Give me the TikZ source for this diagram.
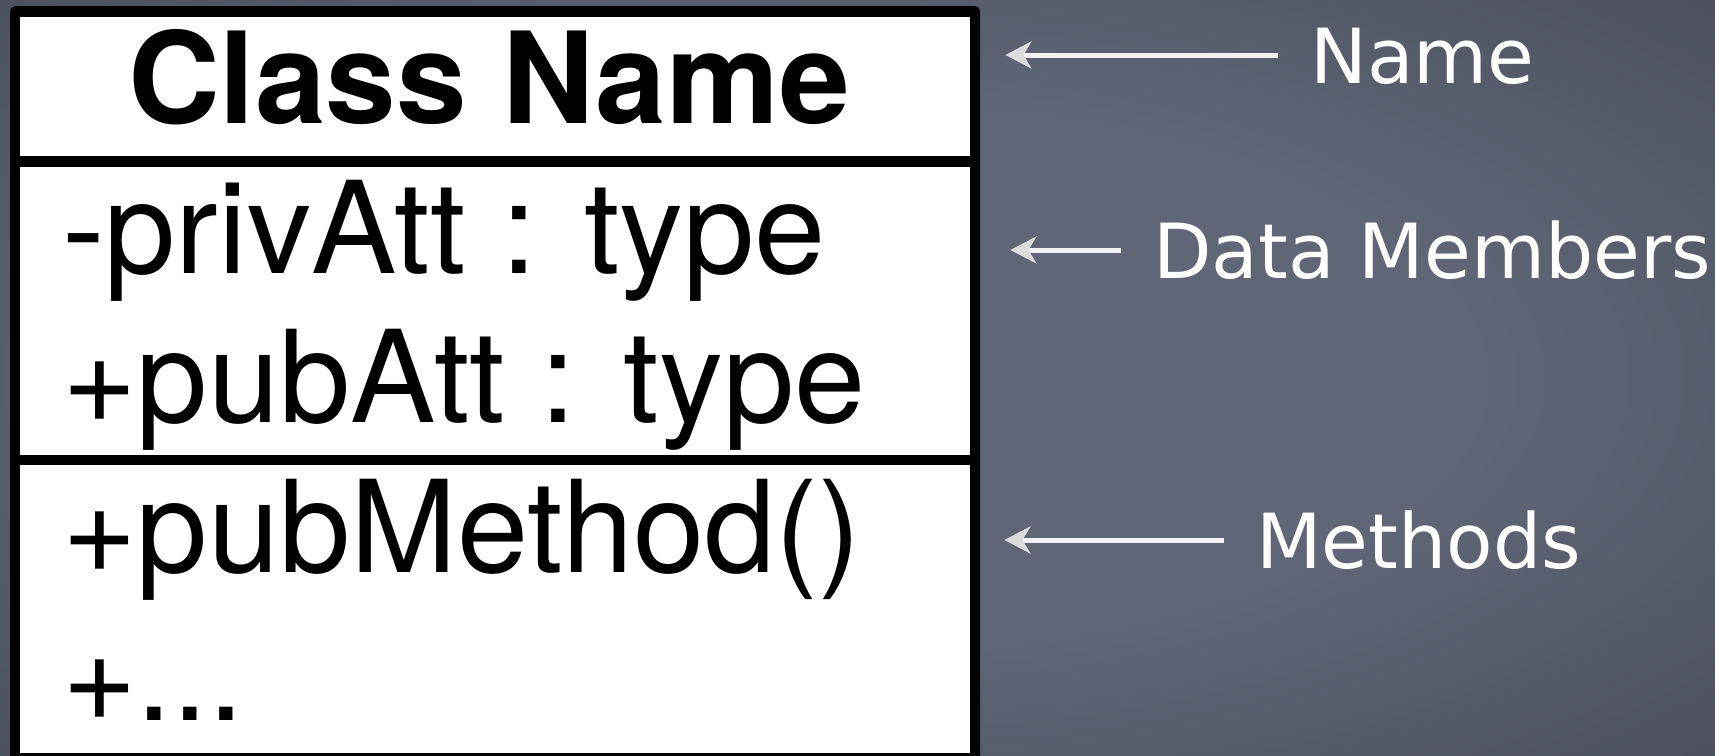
\documentclass[tikz,border=0pt]{standalone}
\usepackage{fontspec}
\setmainfont{TeX Gyre Heros}
\newfontfamily\chalkfont{DejaVu Sans}
\usetikzlibrary{arrows.meta}
\definecolor{bgin}{HTML}{606676}
\definecolor{bgout}{HTML}{474B57}
\definecolor{arrowline}{HTML}{F2F2F2}
\definecolor{arrowtip}{HTML}{DCDCDC}
\pgfdeclareradialshading{vignette}{\pgfpoint{0bp}{0bp}}{color(0bp)=(bgin); color(18bp)=(bgin); color(40bp)=(bgout); color(50bp)=(bgout)}
\tikzset{
  outerbox/.style={fill=black, rounded corners=5pt, inner sep=0pt, minimum width=970pt, minimum height=764pt, anchor=north west},
  comp/.style={fill=white, inner sep=0pt, minimum width=950pt, anchor=north west},
  classtitle/.style={font=\bfseries\fontsize{127pt}{150pt}\selectfont, inner sep=0pt, anchor=base},
  member/.style={font=\fontsize{128pt}{150pt}\selectfont, inner sep=0pt, anchor=base west},
  chalklabel/.style={font=\chalkfont\fontsize{76pt}{90pt}\selectfont, text=white, inner sep=0pt, text height=56pt, text depth=0pt, anchor=west},
  pointer/.style={draw=arrowline, line width=5pt, -{Stealth[length=26pt, width=27pt, inset=8pt, color=arrowtip]}, shorten <=32pt}
}
\begin{document}
\begin{tikzpicture}[x=1pt, y=-1pt]
\useasboundingbox (0,0) rectangle (1715,755);
\shade[shading=vignette] (0,0) rectangle (1715,755);

% class box
\node[outerbox] (box) at (10,6) {};
\node[comp, minimum height=139pt] (cname) at (20,17) {};
\node[comp, minimum height=288pt] (cattr) at (20,167) {};
\node[comp, minimum height=288pt] (cmeth) at (20,465) {};

% texts in the box
\node[classtitle] (title) at (489,123) {Class Name};
\node[member] (priv) at (62,273) {-privAtt : type};
\node[member] (pub) at (62,422) {+pubAtt : type};
\node[member] (meth) at (62,572) {+pubMethod()};
\node[member] (more) at (62,720) {+...};

% labels
\node[chalklabel] (lname) at (1310,55) {Name};
\node[chalklabel] (ldata) at (1153,250) {Data Members};
\node[chalklabel] (lmeth) at (1256,540) {Methods};

% pointers
\draw[pointer, shorten >=25pt] (lname.west) -- (lname.west -| box.east);
\draw[pointer, shorten >=30pt] (ldata.west) -- (ldata.west -| box.east);
\draw[pointer, shorten >=24pt] (lmeth.west) -- (lmeth.west -| box.east);
\end{tikzpicture}
\end{document}
